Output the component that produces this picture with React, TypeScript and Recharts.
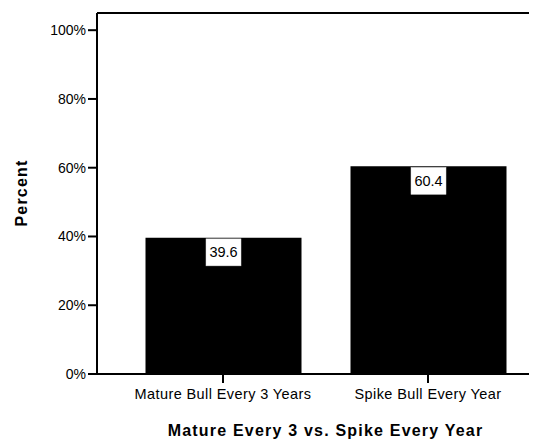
import React from 'react';
import { BarChart, Bar, XAxis, YAxis, ReferenceLine, LabelList } from 'recharts';

const categories = ['Mature Bull Every 3 Years', 'Spike Bull Every Year'];
const percents = [39.6, 60.4];
const yTicks = [0, 20, 40, 60, 80, 100];
const xTitle = 'Mature Every 3 vs. Spike Every Year';
const yTitle = 'Percent';

const data = categories.map((c, i) => ({ name: c, value: percents[i] }));

const FONT = '"Liberation Sans", Arial, Helvetica, sans-serif';

const ValueLabel = (props: any) => {
  const { x, y, width, value } = props;
  const cx = x + width / 2;
  const w = 35;
  const h = 27;
  return (
    <g>
      <rect x={cx - w / 2} y={y + 1} width={w} height={h} fill="#fff" stroke="#ddd" strokeWidth={0.5} />
      <text x={cx} y={y + 1 + h / 2} textAnchor="middle" dominantBaseline="central" fontSize={14.5} fontFamily={FONT} fill="#000">
        {value}
      </text>
    </g>
  );
};

export default function App() {
  return (
    <div style={{ position: 'relative', width: 529, height: 432, fontFamily: FONT }}>
      <BarChart
        width={529}
        height={432}
        data={data}
        margin={{ top: 5, right: 0, bottom: 36, left: 0 }}
        barSize={156}
      >
        <XAxis
          dataKey="name"
          padding={{ left: 23.5, right: 6.5 }}
          axisLine={{ stroke: '#000', strokeWidth: 2 }}
          tickLine={{ stroke: '#000', strokeWidth: 2 }}
          tickSize={9}
          tickMargin={6}
          height={30}
          tick={{ fill: '#000', fontSize: 14.5, fontFamily: FONT, letterSpacing: 0.4 }}
          interval={0}
        />
        <YAxis
          domain={[0, 105]}
          ticks={yTicks}
          width={89}
          axisLine={{ stroke: '#000', strokeWidth: 2 }}
          tickLine={{ stroke: '#000', strokeWidth: 2 }}
          tickSize={9}
          tickMargin={2}
          tickFormatter={(v: number) => `${v}%`}
          tick={{ fill: '#000', fontSize: 14, fontFamily: FONT }}
          allowDataOverflow
        />
        <ReferenceLine y={105} stroke="#000" strokeWidth={2} />
        <Bar dataKey="value" fill="#000" isAnimationActive={false}>
          <LabelList dataKey="value" content={ValueLabel} />
        </Bar>
      </BarChart>
      <div
        style={{
          position: 'absolute',
          left: 317.5 - 200,
          width: 400,
          top: 414,
          textAlign: 'center',
          fontWeight: 'bold',
          fontSize: 16,
          letterSpacing: 1.2,
          lineHeight: '18px',
          color: '#000',
          whiteSpace: 'nowrap',
        }}
      >
        {xTitle}
      </div>
      <div
        style={{
          position: 'absolute',
          left: 14 - 50,
          top: 185 - 9,
          width: 100,
          height: 18,
          lineHeight: '18px',
          textAlign: 'center',
          fontWeight: 'bold',
          fontSize: 16,
          letterSpacing: 1.2,
          color: '#000',
          transform: 'rotate(-90deg)',
          whiteSpace: 'nowrap',
        }}
      >
        {yTitle}
      </div>
    </div>
  );
}
